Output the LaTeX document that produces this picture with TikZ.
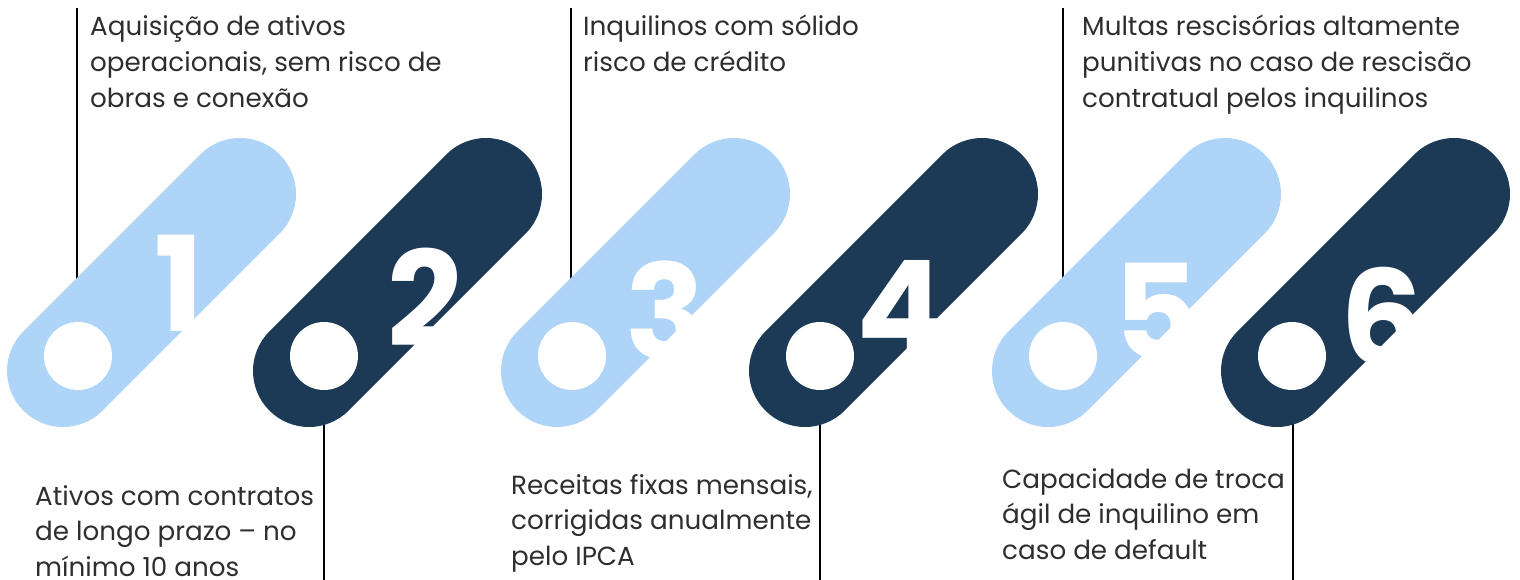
\documentclass[tikz,border=0pt]{standalone}
\usepackage{fontspec}
\setmainfont{Poppins}
\newfontfamily\numfont{Poppins}
\definecolor{lightpill}{HTML}{AED4F8}
\definecolor{darkpill}{HTML}{1C3956}
\definecolor{txt}{HTML}{2E2E2E}
\begin{document}
\begin{tikzpicture}[x=1pt,y=-1pt,
  pill/.style={line width=112pt, line cap=round},
  hole/.style={fill=white, circle, minimum size=68pt, inner sep=0pt},
  num/.style={text=white, font=\numfont\bfseries\fontsize{132}{132}\selectfont, inner sep=0pt, anchor=north},
  lbl/.style={text=txt, font=\fontsize{26.2}{36}\selectfont, align=left, inner sep=0pt, anchor=base west},
  lblb/.style={lbl, font=\fontsize{26.2}{35.5}\selectfont},
  conn/.style={line width=2pt, black}]
\useasboundingbox (0,0) rectangle (1520,580);

% connector lines
\coordinate (t1) at (77,8);    \coordinate (p1) at (77,300);
\coordinate (t3) at (571,8);   \coordinate (p3) at (571,300);
\coordinate (t5) at (1063,8);  \coordinate (p5) at (1063,300);
\coordinate (p2) at (324,415); \coordinate (b2) at (324,580);
\coordinate (p4) at (820,415); \coordinate (b4) at (820,580);
\coordinate (p6) at (1293,415);\coordinate (b6) at (1293,580);
\draw[conn] (t1) -- (p1);
\draw[conn] (t3) -- (p3);
\draw[conn] (t5) -- (p5);
\draw[conn] (p2) -- (b2);
\draw[conn] (p4) -- (b4);
\draw[conn] (p6) -- (b6);

% pills
\foreach \lx/\col/\i in {63/lightpill/1, 309/darkpill/2, 557/lightpill/3, 805/darkpill/4, 1048/lightpill/5, 1277/darkpill/6}{
  \coordinate (L\i) at (\lx,371);
  \coordinate (U\i) at (\lx+177,194);
  \draw[pill, draw=\col] (L\i) -- (U\i);
  \node[hole] (h\i) at (\lx+15,356) {};
}

% numbers
\node[num] (n1) at (179,235) {1};
\node[num] (n2) at (425.5,248) {2};
\node[num] (n3) at (665.5,261) {3};
\node[num] (n4) at (901.5,260) {4};
\node[num] (n5) at (1156,263) {5};
\node[num] (n6) at (1382.5,267) {6};

% texts (anchor = baseline of the last line)
\node[lbl] (x1) at (90,108) {Aquisição de ativos\\operacionais, sem risco de\\obras e conexão};
\node[lblb] (x2) at (35,576) {Ativos com contratos\\de longo prazo – no\\mínimo 10 anos};
\node[lbl] (x3) at (583,72) {Inquilinos com sólido\\risco de crédito};
\node[lblb] (x4) at (511,565) {Receitas fixas mensais,\\corrigidas anualmente\\pelo IPCA};
\node[lbl] (x5) at (1082,108) {Multas rescisórias altamente\\punitivas no caso de rescisão\\contratual pelos inquilinos};
\node[lblb] (x6) at (1002,559) {Capacidade de troca\\ágil de inquilino em\\caso de default};
\end{tikzpicture}
\end{document}
